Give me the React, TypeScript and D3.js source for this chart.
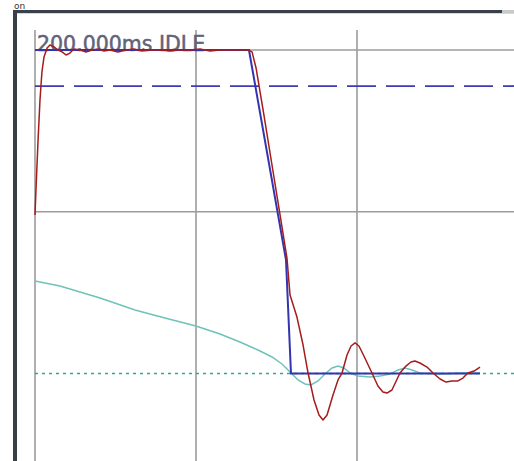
import React from "react";
import * as d3 from "d3";

// Time in ms, response in % of full scale
const timeTicks = [0, 100, 200, 300];
const levelTicks = [0, 100, 200];
const idleLabel = "200.000ms IDLE";
const limitLevel = 177.7;

const commandT = [0, 132.9, 155.9, 159.0, 276.4];
const commandV = [200, 200, 70.2, 0, 0];

const responseT = [0, 0.6, 1.9, 3.1, 4.3, 5.6, 7.5, 9.3, 11.8, 14.3, 16.8, 19.3, 21.7, 24.2, 28.0, 31.7, 35.4, 39.1, 42.9, 46.6, 51.6, 56.5, 61.5, 66.5, 71.4, 77.6, 83.9, 90.1, 96.3, 102.5, 108.7, 114.9, 121.1, 127.3, 132.3, 134.8, 137.3, 142.2, 147.2, 152.2, 156.5, 158.4, 162.7, 166.5, 169.6, 173.3, 176.4, 178.9, 181.4, 185.1, 188.2, 190.7, 193.8, 196.3, 198.8, 201.2, 204.3, 209.3, 213.0, 216.1, 218.6, 221.7, 226.7, 230.4, 233.5, 236.0, 239.1, 243.5, 247.2, 251.6, 255.3, 259.0, 262.7, 265.8, 268.9, 272.7, 276.4];
const responseV = [98.0, 113.4, 144.3, 169.1, 186.4, 195.7, 201.2, 203.1, 201.9, 200, 198.8, 196.9, 198.1, 200.6, 200, 198.8, 200, 200.6, 199.4, 200, 198.8, 200, 200.6, 199.4, 200, 200, 199.4, 200, 200, 200.6, 199.4, 200, 200, 200, 200, 198.8, 188.9, 159.8, 128.9, 98.0, 71.4, 48.5, 34.9, 17.6, 0.3, -16.4, -25.7, -28.7, -25.7, -13.3, -4.0, 0.3, 11.4, 17.0, 18.9, 17.0, 10.8, 0.3, -7.7, -11.4, -12.1, -10.2, 0.3, 4.6, 7.1, 7.7, 6.5, 4.0, 0.3, -3.4, -5.3, -4.6, -4.6, -2.8, 0.3, 1.5, 4.0];

const modelT = [0, 15.5, 40.4, 62.1, 80.7, 100, 114.9, 127.3, 138.5, 147.2, 153.4, 158.4, 163.4, 167.7, 171.4, 175.8, 180.1, 184.5, 188.2, 191.9, 195.7, 200.6, 208.1, 214.3, 220.5, 225.5, 229.8, 234.2, 239.1, 251.6, 264.0, 276.4];
const modelV = [57.2, 54.1, 46.7, 39.3, 34.3, 29.4, 24.4, 19.5, 14.5, 10.2, 5.9, 0.9, -4.0, -6.5, -7.1, -4.6, -0.3, 3.4, 4.6, 3.4, 0.3, -1.5, -2.2, -1.5, -0.3, 2.2, 3.4, 2.2, 0.3, -0.3, 0.3, 0.3];

const W = 514;
const H = 461;

export default function App() {
  const x = d3.scaleLinear().domain([0, 300]).range([35, 518]);
  const y = d3.scaleLinear().domain([0, 200]).range([373.5, 50]);
  const top = 30;

  const line = d3
    .line<[number, number]>()
    .x((d) => x(d[0]))
    .y((d) => y(d[1]));

  const zip = (t: number[], v: number[]) =>
    t.map((tt, i) => [tt, v[i]] as [number, number]);

  const gridColor = "#9c9c9c";

  return (
    <svg
      width={W}
      height={H}
      style={{ position: "absolute", left: 0, top: 0, background: "#fff" }}
    >
      <rect x={0} y={0} width={W} height={H} fill="#fff" />
      {/* window frame */}
      <text x={14} y={9} fontFamily="DejaVu Sans" fontSize={9} fill="#333">
        on
      </text>
      <rect x={13} y={10} width={489} height={3} fill="#3a4049" />
      <rect x={502} y={10} width={12} height={3} fill="#c9c9c9" />
      <rect x={17} y={13} width={497} height={1} fill="#d8d8d8" />
      <rect x={13} y={10} width={4} height={H - 10} fill="#3a4049" />

      {/* grid */}
      {timeTicks.map((t) => (
        <line
          key={"v" + t}
          x1={x(t)}
          x2={x(t)}
          y1={top}
          y2={H}
          stroke={gridColor}
          strokeWidth={1.6}
        />
      ))}
      {levelTicks
        .filter((v) => v > 0)
        .map((v) => (
          <line
            key={"h" + v}
            x1={x(0)}
            x2={W}
            y1={y(v)}
            y2={y(v)}
            stroke={gridColor}
            strokeWidth={1.6}
          />
        ))}

      {/* zero reference */}
      <line
        x1={x(0)}
        x2={W}
        y1={y(0)}
        y2={y(0)}
        stroke="#2aa898"
        strokeWidth={1.5}
        strokeDasharray="3,4"
      />
      {/* limit */}
      <line
        x1={x(0)}
        x2={W}
        y1={y(limitLevel)}
        y2={y(limitLevel)}
        stroke="#3c3cb4"
        strokeWidth={1.8}
        strokeDasharray="29,10"
      />

      <text
        x={37}
        y={51}
        fontFamily="DejaVu Sans"
        fontSize={20.5}
        fill="#62627a"
        stroke="#62627a"
        strokeWidth={0.5}
      >
        {idleLabel}
      </text>

      <path
        d={line(zip(modelT, modelV)) ?? ""}
        fill="none"
        stroke="#6fc2b9"
        strokeWidth={1.5}
      />
      <path
        d={line(zip(commandT, commandV)) ?? ""}
        fill="none"
        stroke="#3434b0"
        strokeWidth={2}
      />
      <path
        d={line(zip(responseT, responseV)) ?? ""}
        fill="none"
        stroke="#a51c1c"
        strokeWidth={1.5}
        strokeLinejoin="round"
      />
    </svg>
  );
}
